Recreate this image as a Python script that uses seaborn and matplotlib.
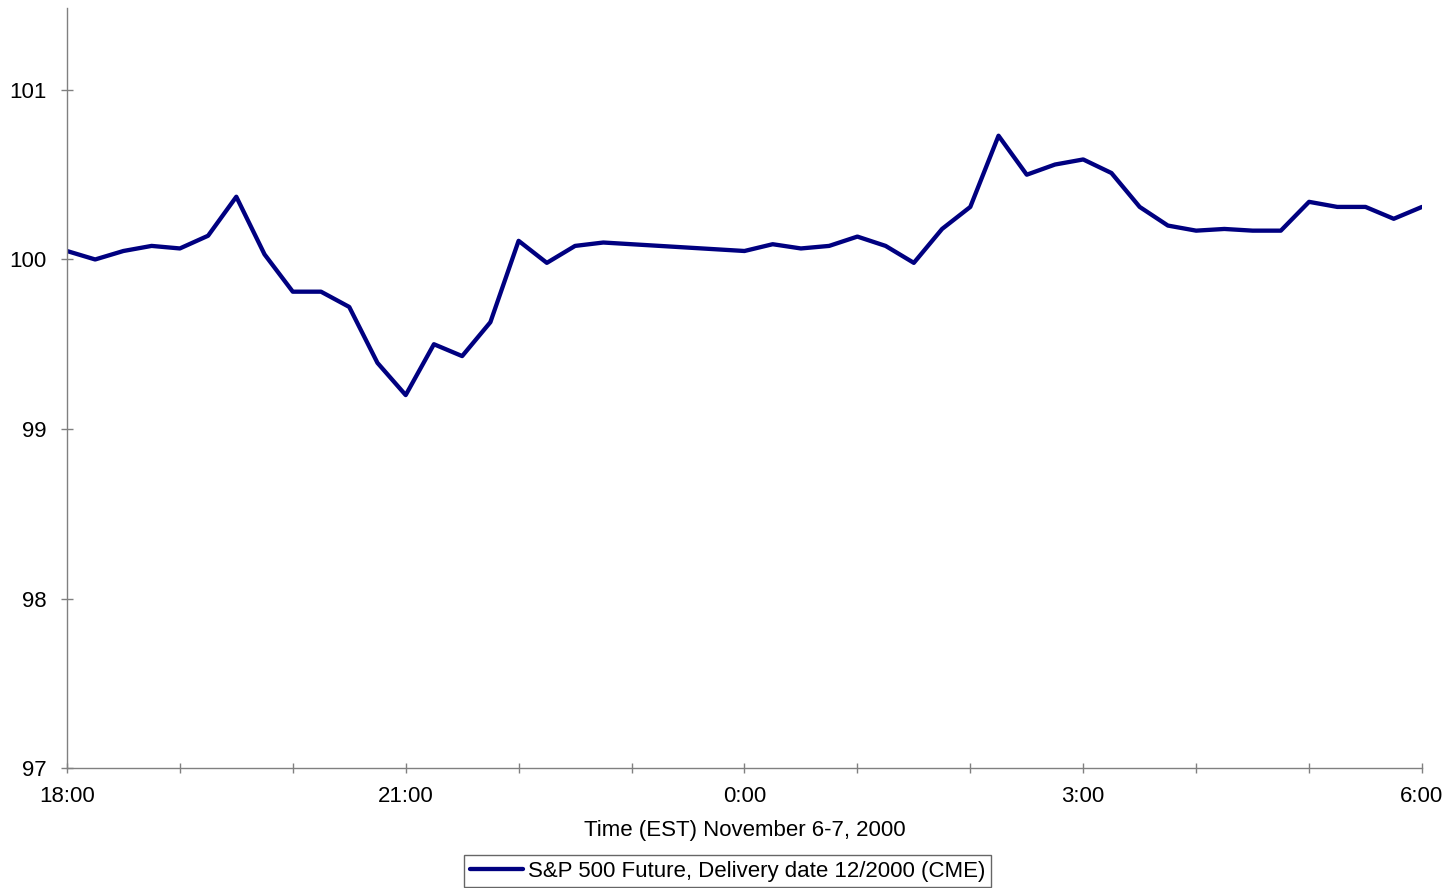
import numpy as np
import pandas as pd
import matplotlib
matplotlib.use("Agg")
import matplotlib.pyplot as plt
import seaborn as sns

# Quarter-hour quotes, hours counted from 18:00 on November 6
hours = [0.00, 0.25, 0.50, 0.75, 1.00, 1.25, 1.50, 1.75, 2.00, 2.25,
         2.50, 2.75, 3.00, 3.25, 3.50, 3.75, 4.00, 4.25, 4.50, 4.75,
         6.00, 6.25, 6.50, 6.75, 7.00, 7.25, 7.50, 7.75, 8.00, 8.25,
         8.50, 8.75, 9.00, 9.25, 9.50, 9.75, 10.00, 10.25, 10.50, 10.75,
         11.00, 11.25, 11.50, 11.75, 12.00]
prices = [100.05, 100.00, 100.05, 100.08, 100.065, 100.14, 100.37, 100.03, 99.81, 99.81,
          99.72, 99.39, 99.20, 99.50, 99.43, 99.63, 100.11, 99.98, 100.08, 100.10,
          100.05, 100.09, 100.065, 100.08, 100.135, 100.08, 99.98, 100.18, 100.31, 100.73,
          100.50, 100.56, 100.59, 100.51, 100.31, 100.20, 100.17, 100.18, 100.17, 100.17,
          100.34, 100.31, 100.31, 100.24, 100.31]

series_name = "S&P 500 Future, Delivery date 12/2000 (CME)"
tick_hours = [0, 3, 6, 9, 12]
tick_labels = ["18:00", "21:00", "0:00", "3:00", "6:00"]
y_ticks = [97, 98, 99, 100, 101]

df = pd.DataFrame({"hour": hours, "price": prices, "series": series_name})

sns.set_theme(style="white")
plt.rcParams["font.family"] = ["Liberation Sans", "DejaVu Sans"]
plt.rcParams["text.color"] = "black"

fig = plt.figure(figsize=(14.55, 8.88), dpi=100)
ax = fig.add_axes([0.046, 0.1351, 0.9313, 0.856])

sns.lineplot(data=df, x="hour", y="price", hue="series", palette=["#000080"],
             linewidth=3.1, ax=ax, legend=True, sort=False)

ax.set_xlim(0, 12)
ax.set_ylim(97, 101.484)
ax.set_xticks(tick_hours)
ax.set_xticklabels(tick_labels)
ax.set_xticks(np.arange(0, 13, 1), minor=True)
ax.set_yticks(y_ticks)
ax.set_yticklabels([str(v) for v in y_ticks])

for side in ("top", "right"):
    ax.spines[side].set_visible(False)
for side in ("left", "bottom"):
    ax.spines[side].set_color("#808080")
    ax.spines[side].set_linewidth(1.0)

ax.tick_params(axis="both", which="both", direction="inout", color="#808080",
               labelsize=16, labelcolor="black")
ax.tick_params(axis="y", which="major", length=9, width=1, pad=10, left=True)
ax.tick_params(axis="x", which="major", length=7, width=1, pad=9.5, bottom=True)
ax.tick_params(axis="x", which="minor", length=7, width=1, bottom=True)

ax.set_xlabel("Time (EST) November 6-7, 2000", fontsize=16, labelpad=9,
              color="black")
ax.set_ylabel("")
ax.grid(False)

handles, labels = ax.get_legend_handles_labels()
leg = ax.legend(handles, labels, loc="lower center", bbox_to_anchor=(0.5, 0.001),
                bbox_transform=fig.transFigure, fontsize=16, frameon=True,
                fancybox=False, edgecolor="#404040", handlelength=2.4,
                handletextpad=0.2, borderpad=0.25, borderaxespad=0)
leg.get_frame().set_linewidth(1.0)
for t in leg.get_texts():
    t.set_color("black")

fig.savefig("out.png", dpi=100, facecolor="white")
